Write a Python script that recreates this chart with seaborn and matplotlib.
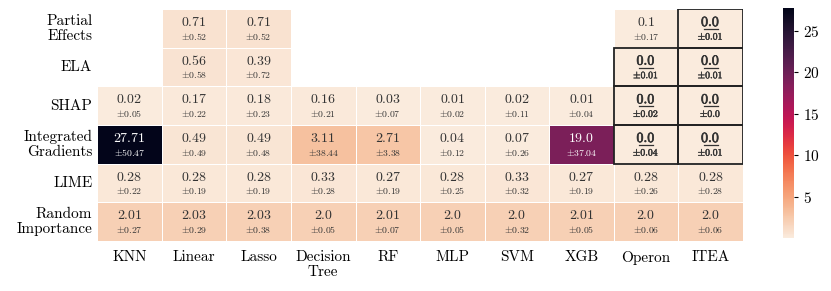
import numpy as np
import pandas as pd
import matplotlib.pyplot as plt
import matplotlib.patheffects as pe
import seaborn as sns
from matplotlib.patches import Rectangle

plt.rcParams['font.family'] = ['cmr10', 'DejaVu Serif']
plt.rcParams['mathtext.fontset'] = 'cm'
plt.rcParams['axes.formatter.use_mathtext'] = True

methods = ['Partial\nEffects', 'ELA', 'SHAP', 'Integrated\nGradients', 'LIME', 'Random\nImportance']
models = ['KNN', 'Linear', 'Lasso', 'Decision\nTree', 'RF', 'MLP', 'SVM', 'XGB', 'Operon', 'ITEA']

nan = np.nan
means = [
    [nan, 0.71, 0.71, nan, nan, nan, nan, nan, 0.1, 0.0],
    [nan, 0.56, 0.39, nan, nan, nan, nan, nan, 0.0, 0.0],
    [0.02, 0.17, 0.18, 0.16, 0.03, 0.01, 0.02, 0.01, 0.0, 0.0],
    [27.71, 0.49, 0.49, 3.11, 2.71, 0.04, 0.07, 19.0, 0.0, 0.0],
    [0.28, 0.28, 0.28, 0.33, 0.27, 0.28, 0.33, 0.27, 0.28, 0.28],
    [2.01, 2.03, 2.03, 2.0, 2.01, 2.0, 2.0, 2.01, 2.0, 2.0],
]
stds = [
    [nan, 0.52, 0.52, nan, nan, nan, nan, nan, 0.17, 0.01],
    [nan, 0.58, 0.72, nan, nan, nan, nan, nan, 0.01, 0.01],
    [0.05, 0.22, 0.23, 0.21, 0.07, 0.02, 0.11, 0.04, 0.02, 0.0],
    [50.47, 0.49, 0.48, 38.44, 3.38, 0.12, 0.26, 37.04, 0.04, 0.01],
    [0.22, 0.19, 0.19, 0.28, 0.19, 0.25, 0.32, 0.19, 0.26, 0.28],
    [0.27, 0.29, 0.38, 0.05, 0.07, 0.05, 0.32, 0.05, 0.06, 0.06],
]
# best (boxed, bold) cells: (row, col)
best = [(0, 9), (1, 8), (1, 9), (2, 8), (2, 9), (3, 8), (3, 9)]

df = pd.DataFrame(means, index=methods, columns=models)

fig = plt.figure(figsize=(8.31, 2.91), dpi=100)
ax = fig.add_axes([0.117, 0.172, 0.777, 0.797])
cax = fig.add_axes([0.942, 0.182, 0.013, 0.790])

sns.heatmap(df, cmap='rocket_r', vmin=0, linewidths=0.6, linecolor='white',
            ax=ax, cbar_ax=cax)

for i in range(len(methods)):
    for j in range(len(models)):
        m = means[i][j]
        if np.isnan(m):
            continue
        s = stds[i][j]
        col = 'white' if m > 15 else '#333333'
        top = r'$' + str(m) + '$'
        bot = r'$\pm' + str(s) + '$'
        if (i, j) in best:
            # bold look + underline for the best value
            fx1 = [pe.withStroke(linewidth=0.5, foreground=col)]
            fx2 = [pe.withStroke(linewidth=0.3, foreground=col)]
            ax.plot([j + 0.39, j + 0.61], [i + 0.52, i + 0.52], color=col, lw=0.9)
        else:
            fx1 = fx2 = None
        ax.text(j + 0.5, i + 0.35, top, ha='center', va='center', fontsize=10,
                color=col, path_effects=fx1)
        ax.text(j + 0.5, i + 0.70, bot, ha='center', va='center', fontsize=7,
                color=col, path_effects=fx2)

for (i, j) in best:
    ax.add_patch(Rectangle((j, i), 1, 1, fill=False, edgecolor='#222222', lw=1.3, zorder=5))

ax.tick_params(length=0, labelsize=11)
ax.tick_params(axis='x', pad=7)
ax.set_yticklabels(methods, rotation=0, ha='right', va='center', linespacing=1.1)
ax.set_xticklabels(models, rotation=0, va='top', linespacing=1.1)
ax.set_xlabel('')
ax.set_ylabel('')

cax.tick_params(labelsize=11, length=3)
cax.set_yticks([5, 10, 15, 20, 25])
for sp in cax.spines.values():
    sp.set_visible(False)

fig.savefig('out.png', dpi=100)
